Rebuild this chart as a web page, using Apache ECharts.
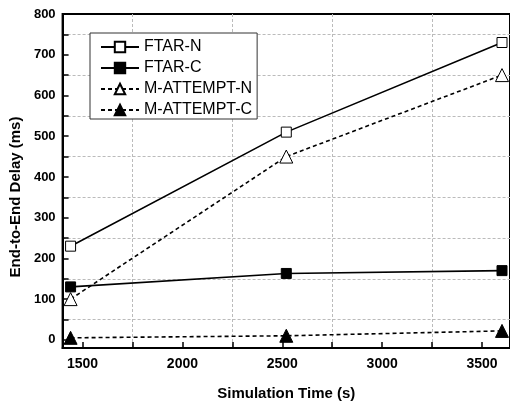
<!DOCTYPE html>
<html>
<head>
<meta charset="utf-8">
<script src="https://cdn.jsdelivr.net/npm/echarts@6/dist/echarts.min.js"></script>
<style>
  html, body { margin: 0; padding: 0; background: #fff; }
  #chart { width: 510px; height: 406px; }
</style>
</head>
<body>
<div id="chart"></div>
<script>
// simulation times (s)
const times = [1440, 2520, 3600]
const ftarN = [230, 510, 730]
const ftarC = [130, 163, 170]
const attemptN = [100, 450, 650]
const attemptC = [5, 10, 22]

// tick labels and in-between ticks (grid lines sit on the in-between ones)
const xLabels = [1500, 2000, 2500, 3000, 3500]
const xMinor = [1750, 2250, 2750, 3250]
const yLabels = [0, 100, 200, 300, 400, 500, 600, 700, 800]
const yMinor = [50, 150, 250, 350, 450, 550, 650, 750]

const font = 'Liberation Sans, Arial, sans-serif'
const gridDash = { color: '#bbb', width: 1, type: [3, 2] }

function pairs(ys) {
  return times.map((t, i) => [t, ys[i]])
}

function makeSeries(name, ys, symbol, filled, dashed, size) {
  return {
    name: name,
    type: 'line',
    data: pairs(ys),
    symbol: symbol,
    symbolSize: size,
    showAllSymbol: true,
    lineStyle: { color: '#000', width: 1.6, type: dashed ? [4, 3] : 'solid' },
    itemStyle: { color: filled ? '#000' : '#fff', borderColor: '#000', borderWidth: 1 },
    emphasis: { disabled: true },
    z: 3
  }
}

const mainAxis = (name, min, max, labels, minor, labelSize) => ({
  type: 'value',
  min: min, max: max,
  name: name,
  nameLocation: 'middle',
  axisLine: { show: true, onZero: false, lineStyle: { color: '#000', width: 2 } },
  axisTick: {
    show: true, inside: true, length: 6,
    customValues: labels.concat(minor),
    lineStyle: { color: '#000', width: 1.5 }
  },
  axisLabel: {
    customValues: labels,
    formatter: v => String(v),
    fontFamily: font, fontSize: labelSize, fontWeight: 'bold', color: '#000'
  },
  splitLine: { show: false }
})

const gridAxis = (min, max, minor) => ({
  type: 'value',
  min: min, max: max,
  axisLine: { show: false, onZero: false },
  axisTick: { show: false, customValues: minor },
  axisLabel: { show: false },
  splitLine: { show: true, lineStyle: gridDash }
})

const xMain = mainAxis('Simulation Time (s)', 1400, 3640, xLabels, xMinor, 14)
xMain.nameGap = 38
xMain.nameTextStyle = { fontFamily: font, fontSize: 15, fontWeight: 'bold', color: '#000' }
xMain.axisLabel.margin = 9

const yMain = mainAxis('End-to-End Delay (ms)', -20, 800, yLabels, yMinor, 13)
yMain.nameGap = 36
yMain.nameTextStyle = { fontFamily: font, fontSize: 15, fontWeight: 'bold', color: '#000', padding: [0, 32, 0, 0] }
yMain.axisLabel.margin = 7

const chart = echarts.init(document.getElementById('chart'))
chart.setOption({
  animation: false,
  grid: {
    left: 61, right: -2, top: 14, bottom: 52,
    show: true, borderColor: '#000', borderWidth: 2, backgroundColor: 'transparent'
  },
  legend: {
    left: 90, top: 33,
    orient: 'vertical',
    backgroundColor: '#fff',
    borderColor: '#333', borderWidth: 1,
    padding: [6, 5, 1, 10],
    itemWidth: 38, itemHeight: 13, itemGap: 5,
    textStyle: { fontFamily: font, fontSize: 16, color: '#000' },
    data: ['FTAR-N', 'FTAR-C', 'M-ATTEMPT-N', 'M-ATTEMPT-C']
  },
  xAxis: [xMain, gridAxis(1400, 3640, xMinor)],
  yAxis: [yMain, gridAxis(-20, 800, yMinor)],
  series: [
    makeSeries('FTAR-N', ftarN, 'rect', false, false, 10),
    makeSeries('FTAR-C', ftarC, 'rect', true, false, 10),
    makeSeries('M-ATTEMPT-N', attemptN, 'triangle', false, true, 13),
    makeSeries('M-ATTEMPT-C', attemptC, 'triangle', true, true, 13)
  ]
})
</script>
</body>
</html>
